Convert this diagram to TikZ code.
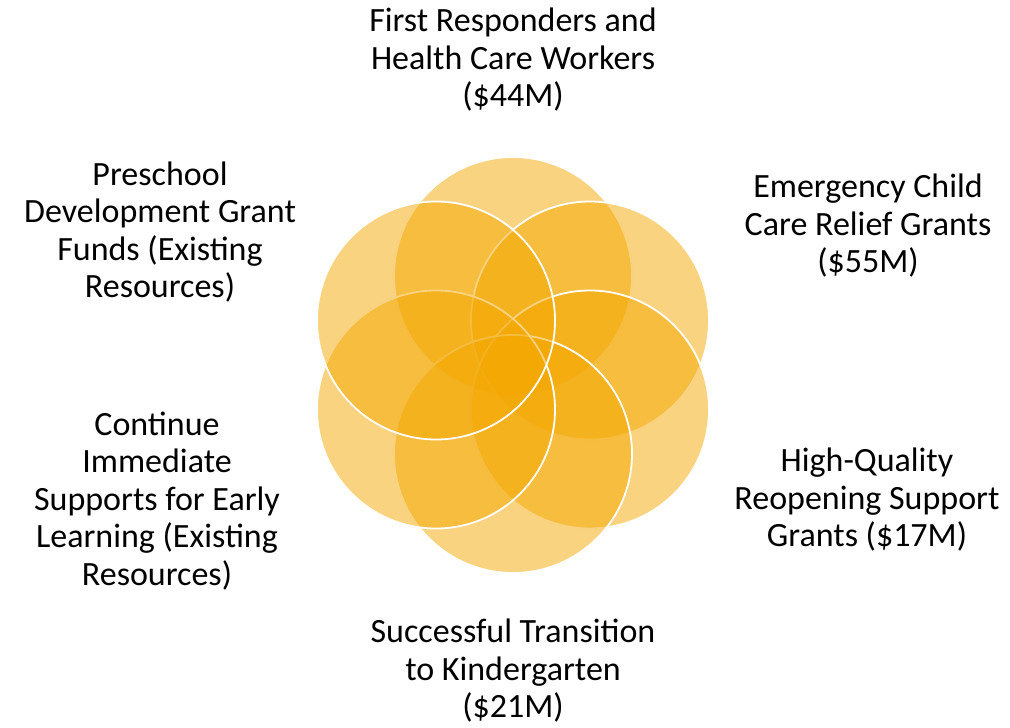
\documentclass[tikz,border=0pt]{standalone}
\usepackage{fontspec}
\setmainfont{Carlito}
\usepackage{tikz}
\usetikzlibrary{shapes, positioning}

\definecolor{petal}{RGB}{243,167,0}

\begin{document}
\begin{tikzpicture}[x=1pt, y=-1pt, petalcircle/.style={circle, draw=white, line width=1.8pt, fill=petal, fill opacity=0.5, minimum size=238pt, inner sep=0pt}, caption/.style={align=center, font=\fontsize{34}{37.5}\selectfont, text=black, inner sep=0pt}]
\useasboundingbox (0, 0) rectangle (1010, 728);
% petals, drawn clockwise from the top
\node[petalcircle] (C1) at (513, 276) {};
\node[petalcircle] (C2) at (590, 320.5) {};
\node[petalcircle] (C3) at (590, 409.5) {};
\node[petalcircle] (C4) at (513, 454) {};
\node[petalcircle] (C5) at (436, 409.5) {};
\node[petalcircle] (C6) at (436, 320.5) {};
% captions
\node[caption] (T1) at (513, 60) {First Responders and\\Health Care Workers\\(\$44M)};
\node[caption] (T2) at (868, 226) {Emergency Child\\Care Relief Grants\\(\$55M)};
\node[caption] (T3) at (867, 500) {High-Quality\\Reopening Support\\Grants (\$17M)};
\node[caption] (T4) at (513, 671) {Successful Transition\\to Kindergarten\\(\$21M)};
\node[caption] (T5) at (157, 501) {Continue\\Immediate\\Supports for Early\\Learning (Existing\\Resources)};
\node[caption] (T6) at (160, 232) {Preschool\\Development Grant\\Funds (Existing\\Resources)};
\end{tikzpicture}
\end{document}
